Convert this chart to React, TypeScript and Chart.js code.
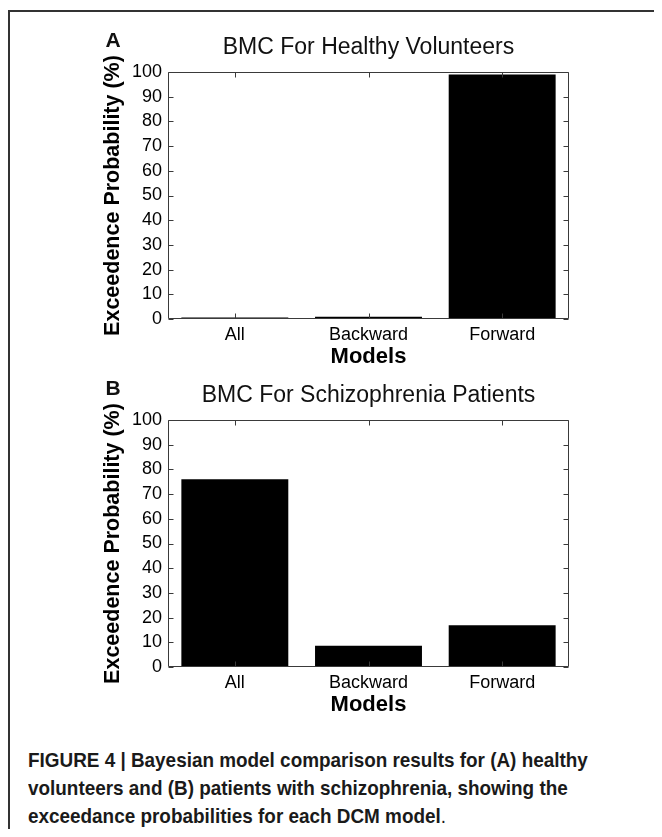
import React, { useEffect, useRef } from "react";
import { Chart, registerables } from "chart.js";

Chart.register(...registerables);

const categories = ["All", "Backward", "Forward"];
const healthyValues = [0.4, 0.9, 99];
const patientValues = [76, 8.6, 16.9];
const yMin = 0;
const yMax = 100;
const yStep = 10;
const yAxisTitle = "Exceedence Probability (%)";
const xAxisTitle = "Models";
const panelTitles = ["BMC For Healthy Volunteers", "BMC For Schizophrenia Patients"];
const panelLetters = ["A", "B"];

const FONT = '"Liberation Sans", Arial, Helvetica, sans-serif';

const boxPlugin = {
  id: "matlabBox",
  afterDatasetsDraw(chart: any, _args: any, opts: any) {
    const { ctx, chartArea: a, scales } = chart;
    const xs = scales.x;
    const ys = scales.y;
    const L = Math.round(a.left) + 0.5;
    const R = Math.round(a.right) - 0.5;
    const T = Math.round(a.top) + 0.5;
    const B = Math.round(a.bottom) - 0.5;
    ctx.save();
    ctx.strokeStyle = "#3a3a3a";
    ctx.lineWidth = 1;
    ctx.beginPath();
    ctx.rect(L, T, R - L, B - T);
    ctx.stroke();
    const tl = 5;
    ctx.beginPath();
    ys.ticks.forEach((t: any) => {
      const py = Math.round(ys.getPixelForValue(t.value)) + 0.5;
      ctx.moveTo(L, py);
      ctx.lineTo(L + tl, py);
      ctx.moveTo(R, py);
      ctx.lineTo(R - tl, py);
    });
    categories.forEach((_c, i) => {
      const px = Math.round(xs.getPixelForValue(i)) + 0.5;
      ctx.moveTo(px, T);
      ctx.lineTo(px, T + tl);
      ctx.moveTo(px, B);
      ctx.lineTo(px, B - tl);
    });
    ctx.stroke();
    ctx.fillStyle = "#111";
    ctx.textAlign = "center";
    ctx.textBaseline = "middle";
    ctx.font = `23px ${FONT}`;
    ctx.fillText(opts.title, (a.left + a.right) / 2, opts.titleY);
    ctx.font = `bold 21px ${FONT}`;
    ctx.fillText(opts.letter, opts.letterX, opts.letterY);
    ctx.restore();
  },
};

function Panel({ values, idx, top }: { values: number[]; idx: number; top: number }) {
  const ref = useRef<HTMLCanvasElement | null>(null);
  useEffect(() => {
    if (!ref.current) return;
    const chart = new Chart(ref.current, {
      type: "bar",
      data: {
        labels: categories,
        datasets: [
          {
            data: values,
            backgroundColor: "#000",
            borderWidth: 0,
            barPercentage: 0.8,
            categoryPercentage: 1.0,
            minBarLength: 1.5,
          },
        ],
      },
      options: {
        animation: false,
        responsive: false,
        devicePixelRatio: 1,
        layout: { padding: { top: 64, right: 85, bottom: 0, left: 0 } },
        plugins: {
          legend: { display: false },
          tooltip: { enabled: false },
          title: { display: false },
          matlabBox: {
            title: panelTitles[idx],
            titleY: 40,
            letter: panelLetters[idx],
            letterX: 105,
            letterY: 33,
          },
        } as any,
        scales: {
          x: {
            type: "category",
            grid: { display: false, drawTicks: false },
            border: { display: false },
            ticks: { font: { size: 18, family: FONT }, color: "#000", padding: 5 },
            title: {
              display: true,
              text: xAxisTitle,
              font: { size: 22, weight: "bold", family: FONT },
              color: "#000",
              padding: { top: 0, bottom: 8 },
            },
            afterFit: (s: any) => {
              s.height = 59;
            },
          },
          y: {
            min: yMin,
            max: yMax,
            grid: { display: false, drawTicks: false },
            border: { display: false },
            ticks: { stepSize: yStep, font: { size: 18, family: FONT }, color: "#000", padding: 6 },
            title: {
              display: true,
              text: yAxisTitle,
              font: { size: 21.5, weight: "bold", family: FONT },
              color: "#000",
              padding: { top: 92, bottom: 0 },
            },
            afterFit: (s: any) => {
              s.width = 160;
            },
          },
        },
      },
      plugins: [boxPlugin as any],
    });
    return () => chart.destroy();
  }, [values, idx]);
  return (
    <canvas
      ref={ref}
      width={646}
      height={370}
      style={{ position: "absolute", left: 0, top, width: 646, height: 370 }}
    />
  );
}

export default function App() {
  return (
    <div style={{ position: "relative", width: 646, height: 821, fontFamily: FONT }}>
      <div
        style={{
          position: "absolute",
          left: 0,
          top: 2,
          width: 654,
          height: 827,
          boxSizing: "border-box",
          borderLeft: "2px solid #333",
          borderTop: "2px solid #333",
        }}
      />
      <Panel values={healthyValues} idx={0} top={0} />
      <Panel values={patientValues} idx={1} top={348} />
      <div
        style={{
          position: "absolute",
          left: 20,
          top: 738,
          whiteSpace: "nowrap",
          fontFamily: FONT,
          fontWeight: "bold",
          fontSize: 21,
          lineHeight: "28px",
          color: "#1a1a1a",
          transform: "scaleX(0.9)",
          transformOrigin: "0 0",
        }}
      >
        FIGURE 4 | Bayesian model comparison results for (A) healthy
        <br />
        volunteers and (B) patients with schizophrenia, showing the
        <br />
        exceedance probabilities for each DCM model<span style={{ fontWeight: "normal" }}>.</span>
      </div>
    </div>
  );
}
